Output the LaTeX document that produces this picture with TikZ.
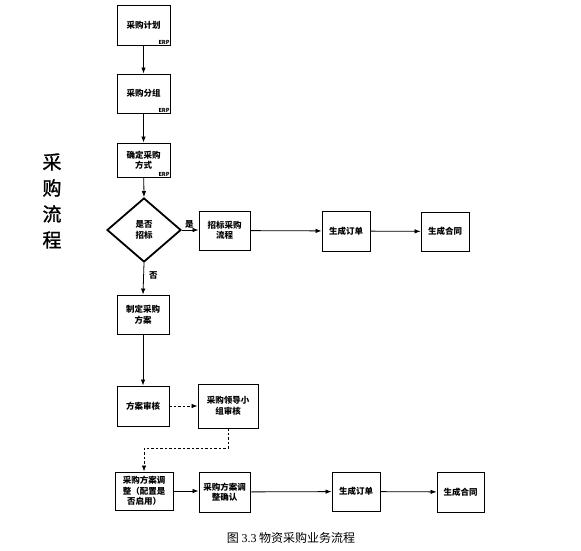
\documentclass[tikz,border=0pt]{standalone}
\usepackage{fontspec}
\setmainfont{Liberation Serif}
\newfontfamily\cjk{Noto Sans CJK SC}
\newfontfamily\cjktitle[FakeBold=1.2]{Noto Sans CJK SC}
\usetikzlibrary{shapes.geometric,arrows.meta,shadows}
\begin{document}
\begin{tikzpicture}[x=1pt,y=-1pt,
  font=\cjk\bfseries\fontsize{8.5}{10.5}\selectfont,
  box/.style={draw=black,line width=0.9pt,fill=white,align=center,inner sep=1pt,
    drop shadow={shadow xshift=0.8pt,shadow yshift=-0.8pt,opacity=0.6,fill=black!60}},
  erp/.style={font=\cjk\bfseries\fontsize{5.5}{5.5}\selectfont,inner sep=0.6pt,anchor=south east},
  conn/.style={draw=black,line width=0.8pt,-{Latex[length=6pt,width=4.5pt]}},
  dconn/.style={conn,dash pattern=on 2.5pt off 2pt},
  lbl/.style={font=\cjk\bfseries\fontsize{8.5}{10}\selectfont,inner sep=1pt}
]
\useasboundingbox (0,0) rectangle (581,551);
\fill[white] (0,0) rectangle (581,551);

% vertical title
\node[font=\cjktitle\fontsize{19}{26}\selectfont,align=center,inner sep=0pt] (title) at (52,201) {采\\购\\流\\程};

\node[box,minimum width=53pt,minimum height=40pt] (p1) at (143.5,25) {采购计划};
\node[erp] (e1) at (p1.south east) {ERP};
\node[box,minimum width=53pt,minimum height=39pt] (p2) at (143.5,93.5) {采购分组};
\node[erp] (e2) at (p2.south east) {ERP};
\node[box,minimum width=53pt,minimum height=34pt] (p3) at (143.5,160) {确定采购\\方式};
\node[erp] (e3) at (p3.south east) {ERP};

\node[draw=black,line width=1.8pt,diamond,fill=white,minimum width=74pt,minimum height=64pt,inner sep=0pt,align=center,aspect=1.15] (dm) at (144,230) {是否\\招标};

\node[box,minimum width=51pt,minimum height=39pt] (zb) at (224.5,230.5) {招标采购\\流程};
\node[box,minimum width=48pt,minimum height=40pt] (o1) at (346,231) {生成订单};
\node[box,minimum width=48pt,minimum height=39pt] (h1) at (445,231.5) {生成合同};

\node[box,minimum width=52pt,minimum height=39pt] (zd) at (143,314.5) {制定采购\\方案};
\node[box,minimum width=52pt,minimum height=40pt] (sh) at (143,406) {方案审核};
\node[box,minimum width=60pt,minimum height=44pt] (ld) at (228,406) {采购领导小\\组审核};

\node[box,minimum width=58pt,minimum height=38pt,inner sep=0pt] (adj) at (144,491) {采购方案调\\整（配置是\\否启用）};
\node[box,minimum width=51pt,minimum height=40pt] (cf) at (224.5,492) {采购方案调\\整确认};
\node[box,minimum width=48pt,minimum height=39pt] (o2) at (356,491.5) {生成订单};
\node[box,minimum width=47pt,minimum height=40pt] (h2) at (460.5,492) {生成合同};

\draw[conn] (p1) -- (p2);
\draw[conn] (p2) -- (p3);
\draw[conn] (p3) -- (dm.north);
\draw[conn] (dm.east) -- node[lbl,above,pos=0.45] (yes) {是} (zb.west |- dm.east);
\draw[conn] (zb) -- (o1);
\draw[conn] (o1) -- (h1);
\draw[conn] (dm.south) -- node[lbl,right,pos=0.4,xshift=4pt] (no) {否} (zd.north);
\draw[conn] (zd) -- (sh);
\draw[dconn] (sh) -- (ld);
\draw[dconn] (ld.south) -- ++(0,20) -| (adj.north);
\draw[conn] (adj) -- (cf.west |- adj);
\draw[conn] (cf) -- (o2);
\draw[conn] (o2) -- (h2);

\node[font=\cjk\fontsize{12}{13}\selectfont] (cap) at (291,538) {图 {\rmfamily 3.3} 物资采购业务流程};
\end{tikzpicture}
\end{document}
